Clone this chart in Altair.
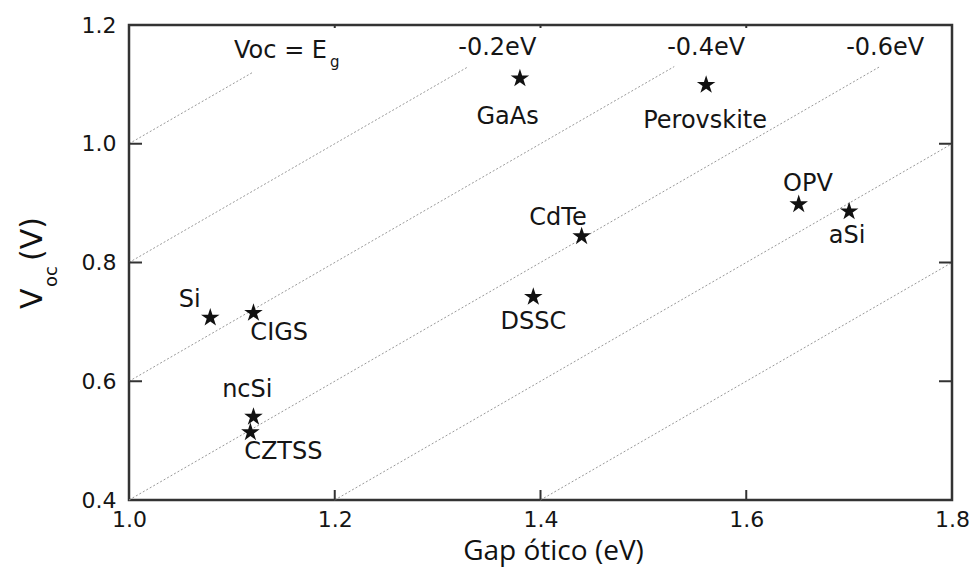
import altair as alt
import pandas as pd

# ---- data ----
cells = ["Si", "CIGS", "ncSi", "CZTSS", "GaAs", "Perovskite", "CdTe", "DSSC", "OPV", "aSi"]
gap = [1.079, 1.121, 1.121, 1.118, 1.380, 1.561, 1.440, 1.393, 1.651, 1.700]
voc = [0.707, 0.715, 0.540, 0.514, 1.110, 1.099, 0.844, 0.742, 0.898, 0.886]
label_x = [1.059, 1.146, 1.115, 1.150, 1.368, 1.560, 1.417, 1.393, 1.660, 1.698]
label_y = [0.737, 0.681, 0.585, 0.481, 1.045, 1.038, 0.875, 0.700, 0.932, 0.845]

# reference lines Voc = Eg + offset
line_offsets = [0.0, -0.2, -0.4, -0.6, -0.8, -1.0]
line_start = [1.0, 1.0, 1.0, 1.0, 1.2, 1.4]
line_end = [1.12, 1.33, 1.53, 1.73, 1.8, 1.8]

offset_labels = ["-0.2eV", "-0.4eV", "-0.6eV"]
offset_label_x = [1.358, 1.561, 1.735]
offset_label_y = [1.162, 1.162, 1.162]

eq_label = "Voc = E"
eq_sub = "g"
eq_label_x = [1.1925]
eq_label_y = [1.144]

x_ticks = [1.0, 1.2, 1.4, 1.6, 1.8]
y_ticks = [0.4, 0.6, 0.8, 1.0, 1.2]
x_inner_ticks = [1.2, 1.4, 1.6]
y_inner_ticks = [0.6, 0.8, 1.0]

W, H = 823, 475
FONT = "DejaVu Sans"
TXT = "#151515"

# ---- tables ----
pts = pd.DataFrame({"cell": cells, "gap": gap, "voc": voc, "lx": label_x, "ly": label_y})
rows = []
for i, (o, s, e) in enumerate(zip(line_offsets, line_start, line_end)):
    rows.append({"g": i, "gap": s, "voc": s + o})
    rows.append({"g": i, "gap": e, "voc": e + o})
lines = pd.DataFrame(rows)
offs = pd.DataFrame({"t": offset_labels, "x": offset_label_x, "y": offset_label_y})
eq = pd.DataFrame({"x": eq_label_x, "y": eq_label_y})
xt = pd.DataFrame({"v": x_inner_ticks})
yt = pd.DataFrame({"v": y_inner_ticks})

xscale = alt.Scale(domain=[1.0, 1.8], nice=False, zero=False)
yscale = alt.Scale(domain=[0.4, 1.2], nice=False, zero=False)
xaxis = alt.Axis(values=x_ticks, format=".1f", ticks=False, domain=False, grid=False,
                 labelFont=FONT, labelFontSize=22, labelColor=TXT, labelPadding=9,
                 labelFlush=False, titleFont="Open Sans", titleFontSize=28,
                 titleFontWeight="normal", titleColor="#111", titleX=424, titleY=59,
                 titleBaseline="alphabetic", titleAlign="center")
yaxis = alt.Axis(values=y_ticks, format=".1f", ticks=False, domain=False, grid=False,
                 labelFont=FONT, labelFontSize=22, labelColor=TXT, labelPadding=13,
                 labelFlush=False, title=None)


def X(f):
    return alt.X(f, type="quantitative", scale=xscale, axis=xaxis, title="Gap ótico (eV)")


def Y(f):
    return alt.Y(f, type="quantitative", scale=yscale, axis=yaxis, title=None)


star = ("M0,-1L0.2245,-0.309L0.951,-0.309L0.363,0.118L0.588,0.809L0,0.382"
        "L-0.588,0.809L-0.363,0.118L-0.951,-0.309L-0.2245,-0.309Z")

line_layer = alt.Chart(lines).mark_line(color="#999", strokeWidth=1, strokeDash=[2, 2]).encode(
    x=X("gap"), y=Y("voc"), detail="g:N")

stars = alt.Chart(pts).mark_point(shape=star, filled=True, size=380, color="#111", opacity=1).encode(
    x=X("gap"), y=Y("voc"))

labels = alt.Chart(pts).mark_text(font=FONT, fontSize=24, color=TXT, baseline="middle",
                                  align="center").encode(x=X("lx"), y=Y("ly"), text="cell:N")

off_text = alt.Chart(offs).mark_text(font=FONT, fontSize=24, color=TXT, baseline="middle",
                                     align="center").encode(x=X("x"), y=Y("y"), text="t:N")

eq_text = alt.Chart(eq).mark_text(font=FONT, fontSize=24, color=TXT, baseline="alphabetic",
                                  align="right", text=eq_label).encode(x=X("x"), y=Y("y"))
eq_sub_text = alt.Chart(eq).mark_text(font=FONT, fontSize=15, color=TXT, baseline="alphabetic",
                                      align="left", dx=3, dy=9, text=eq_sub).encode(x=X("x"), y=Y("y"))

tick_b = alt.Chart(xt).mark_rule(color="#333", strokeWidth=2).encode(
    x=X("v"), y=alt.value(H), y2=alt.value(H - 10))
tick_t = alt.Chart(xt).mark_rule(color="#333", strokeWidth=2).encode(
    x=X("v"), y=alt.value(0), y2=alt.value(3))
tick_l = alt.Chart(yt).mark_rule(color="#333", strokeWidth=2).encode(
    y=Y("v"), x=alt.value(0), x2=alt.value(13))
tick_r = alt.Chart(yt).mark_rule(color="#333", strokeWidth=2).encode(
    y=Y("v"), x=alt.value(W - 13), x2=alt.value(W))

# y-axis title with subscript, built from text pieces
ytitle_v = alt.Chart(eq).mark_text(font=FONT, fontSize=30, color="#111", angle=270, align="left",
                                   baseline="alphabetic", text="V").encode(
    x=alt.value(-87), y=alt.value(284))
ytitle_sub = alt.Chart(eq).mark_text(font=FONT, fontSize=18, color="#111", angle=270, align="left",
                                     baseline="alphabetic", text="oc").encode(
    x=alt.value(-72), y=alt.value(262))
ytitle_u = alt.Chart(eq).mark_text(font=FONT, fontSize=30, color="#111", angle=270, align="left",
                                   baseline="alphabetic", text="(V)").encode(
    x=alt.value(-87), y=alt.value(236))

chart = alt.layer(
    line_layer, tick_b, tick_t, tick_l, tick_r, stars, labels, off_text, eq_text, eq_sub_text,
    ytitle_v, ytitle_sub, ytitle_u
).properties(
    width=W, height=H,
    autosize=alt.AutoSizeParams(type="none"),
    padding={"left": 129, "top": 25, "right": 24, "bottom": 69},
    background="white",
).configure_view(stroke="#333", strokeWidth=2.5)

chart.save("out.html", embed_options={"renderer": "svg", "actions": False})
